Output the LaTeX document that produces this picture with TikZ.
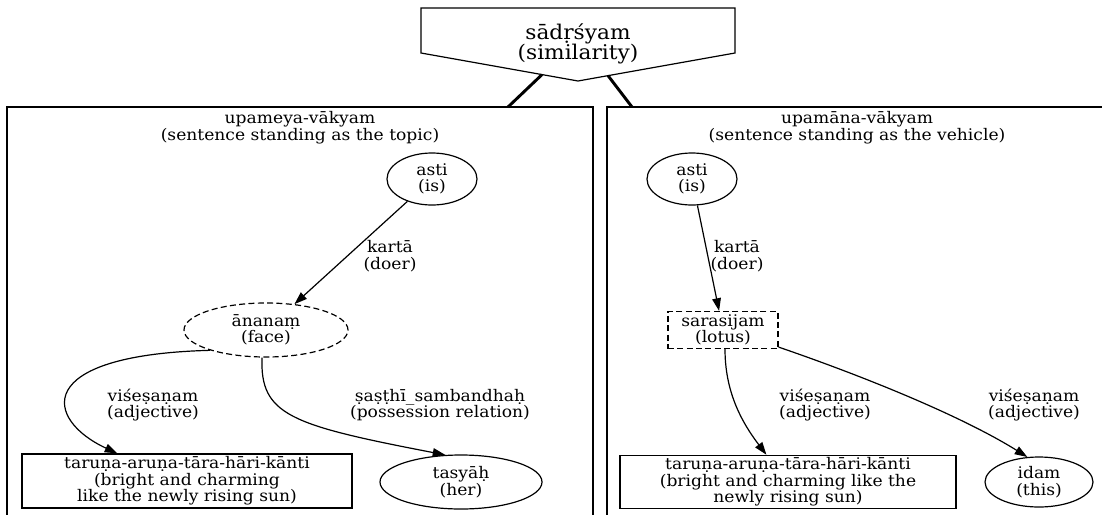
\documentclass[tikz,border=0pt]{standalone}
\usepackage{fontspec}
\setmainfont[FakeStretch=1.07]{DejaVu Serif}
\usetikzlibrary{shapes.geometric,arrows.meta,calc}

\begin{document}
\begin{tikzpicture}[x=0.75pt,y=-0.75pt,
  txt/.style={font=\fontsize{12}{12.4}\selectfont, align=center, inner sep=0pt},
  headtxt/.style={font=\fontsize{12}{11.4}\selectfont, align=center, inner sep=0pt},
  bigtxt/.style={font=\fontsize{15.2}{15}\selectfont, align=center, inner sep=0pt},
  oval/.style={txt, draw, ellipse, line width=0.9pt},
  dashedoval/.style={oval, dash pattern=on 4.5pt off 2.5pt},
  box/.style={txt, draw, rectangle, line width=0.9pt},
  dashedbox/.style={box, dash pattern=on 4.5pt off 2.5pt},
  rel/.style={line width=0.9pt, -{Triangle[length=9.5pt,width=6.5pt]}},
  link/.style={line width=2.2pt},
  frame/.style={draw, line width=0.9pt}
]
\useasboundingbox (0,0) rectangle (1102,514);
\clip (0,0) rectangle (1102,514);

% comparison node at the top
\draw[line width=0.9pt] (421,8) -- (735,8) -- (735,53) -- (578,81) -- (421,53) -- cycle;
\node[bigtxt] (sim) at (578,44) {sādṛśyam\\(similarity)};

% the two sentence clusters
\draw[frame] (7,107) rectangle (593,540);
\draw[frame] (607,107) rectangle (1120,540);
\coordinate (simL) at (542,74.6);
\coordinate (simR) at (608,75.6);
\coordinate (topL) at (508,107);
\coordinate (topR) at (632,107);
\draw[link] (simL) -- (topL);
\draw[link] (simR) -- (topR);

\node[headtxt] (titleL) at (300,128) {upameya-vākyam\\(sentence standing as the topic)};
\node[headtxt] (titleR) at (857,128) {upamāna-vākyam\\(sentence standing as the vehicle)};

% topic sentence
\node[oval, minimum width=67.5pt, minimum height=39pt] (astiL) at (432,179) {asti\\(is)};
\node[dashedoval, minimum width=123pt, minimum height=40.5pt] (anL) at (266,330) {ānanaṃ\\(face)};
\node[box, minimum width=247.5pt, minimum height=40.5pt] (adjL) at (187,481) {taruṇa-aruṇa-tāra-hāri-kānti\\(bright and charming\\like the newly rising sun)};
\node[oval, minimum width=121.5pt, minimum height=40.5pt] (tas) at (461,482) {tasyāḥ\\(her)};

\draw[rel] (astiL) -- (anL);
\node[txt] (kL) at (390,256) {kartā\\(doer)};
\draw[rel] (anL.200) .. controls (30,355) and (45,420) .. ($(adjL.north west)+(96,0)$);
\node[txt] (vL) at (153,405) {viśeṣaṇam\\(adjective)};
\draw[rel] ($(anL.south)+(-4,0)$) .. controls (260,415) and (290,425) .. (tas.120);
\node[txt] (sL) at (440,405) {ṣaṣṭhī\_sambandhaḥ\\(possession relation)};

% vehicle sentence
\node[oval, minimum width=67.5pt, minimum height=39pt] (astiR) at (692,179) {asti\\(is)};
\node[dashedbox, minimum width=82.5pt, minimum height=27.75pt] (sar) at (723,330) {sarasijam\\(lotus)};
\node[box, minimum width=252pt, minimum height=40pt] (adjR) at (788,482) {taruṇa-aruṇa-tāra-hāri-kānti\\(bright and charming like the\\newly rising sun)};
\node[oval, minimum width=81pt, minimum height=37.5pt] (idam) at (1039,482) {idam\\(this)};

\draw[rel] (astiR) -- (sar);
\node[txt] (kR) at (737,256) {kartā\\(doer)};
\draw[rel] ($(sar.south)+(2,0)$) .. controls (725,390) and (740,420) .. ($(adjR.north west)+(147,0)$);
\node[txt] (vR1) at (825,405) {viśeṣaṇam\\(adjective)};
\draw[rel] ($(sar.south east)+(0,-2)$) .. controls (860,375) and (960,415) .. (idam.115);
\node[txt] (vR2) at (1034,405) {viśeṣaṇam\\(adjective)};
\end{tikzpicture}
\end{document}
